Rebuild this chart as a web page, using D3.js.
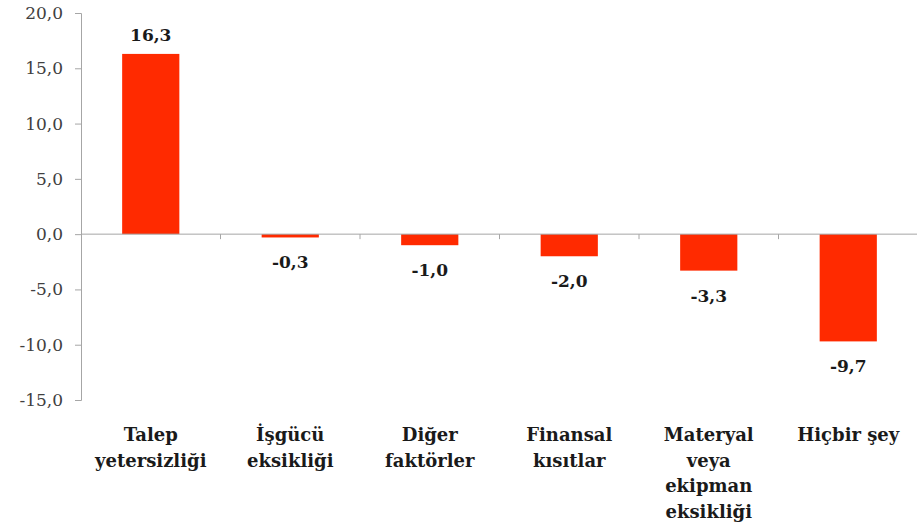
<!DOCTYPE html>
<html>
<head>
<meta charset="utf-8">
<script src="https://cdn.jsdelivr.net/npm/d3@7"></script>
<style>
  body { margin: 0; background: #fff; }
  svg { display: block; }
</style>
</head>
<body>
<div id="chart"></div>
<script>
// data
var categories = [
  ["Talep", "yetersizliği"],
  ["İşgücü", "eksikliği"],
  ["Diğer", "faktörler"],
  ["Finansal", "kısıtlar"],
  ["Materyal", "veya", "ekipman", "eksikliği"],
  ["Hiçbir şey"]
];
var values = [16.3, -0.3, -1.0, -2.0, -3.3, -9.7];
var yTicks = [20, 15, 10, 5, 0, -5, -10, -15];

var width = 917, height = 526;
var fontFam = "'DejaVu Serif', serif";

var svg = d3.select("#chart").append("svg")
  .attr("width", width)
  .attr("height", height);

var keys = categories.map(function (c) { return c.join(" "); });

var xScale = d3.scaleBand()
  .domain(keys)
  .range([81, 918])
  .paddingInner(0.59)
  .paddingOuter(0.295);

var yScale = d3.scaleLinear()
  .domain([-15, 20])
  .range([400, 13]);

// comma decimal, plain hyphen for minus
var fmt = function (v) { return d3.format(".1f")(v).replace(".", ",").replace("\u2212", "-"); };

// y axis
var yAxis = svg.append("g")
  .attr("transform", "translate(81,0)")
  .call(d3.axisLeft(yScale).tickValues(yTicks).tickSize(6).tickPadding(12).tickFormat(fmt));
yAxis.select(".domain").attr("stroke", "#a6a6a6");
yAxis.selectAll(".tick line").attr("stroke", "#a6a6a6");
yAxis.selectAll(".tick text")
  .attr("font-family", fontFam)
  .attr("font-size", "17px")
  .attr("fill", "#404040");

// bars
svg.selectAll(".bar")
  .data(values)
  .enter().append("rect")
  .attr("class", "bar")
  .attr("x", function (d, i) { return xScale(keys[i]); })
  .attr("width", xScale.bandwidth())
  .attr("y", function (d) { return yScale(Math.max(0, d)); })
  .attr("height", function (d) { return Math.abs(yScale(d) - yScale(0)); })
  .attr("fill", "#ff2a00");

// zero line + category boundary ticks
svg.append("line")
  .attr("x1", 81).attr("x2", 918)
  .attr("y1", yScale(0)).attr("y2", yScale(0))
  .attr("stroke", "#a6a6a6");

var step = xScale.step();
keys.forEach(function (k, i) {
  var bx = xScale(k) + xScale.bandwidth() + step * xScale.paddingInner() / 2;
  svg.append("line")
    .attr("x1", bx).attr("x2", bx)
    .attr("y1", yScale(0)).attr("y2", yScale(0) + 5)
    .attr("stroke", "#a6a6a6");
});

// value labels
svg.selectAll(".val")
  .data(values)
  .enter().append("text")
  .attr("class", "val")
  .attr("x", function (d, i) { return xScale(keys[i]) + xScale.bandwidth() / 2; })
  .attr("y", function (d) { return d >= 0 ? yScale(d) - 13 : yScale(d) + 31; })
  .attr("text-anchor", "middle")
  .attr("font-family", fontFam)
  .attr("font-weight", "bold")
  .attr("font-size", "17px")
  .attr("fill", "#1a1a1a")
  .text(fmt);

// category labels
var cat = svg.selectAll(".cat")
  .data(categories)
  .enter().append("text")
  .attr("class", "cat")
  .attr("text-anchor", "middle")
  .attr("font-family", fontFam)
  .attr("font-weight", "bold")
  .attr("font-size", "18px")
  .attr("fill", "#1a1a1a");

cat.selectAll("tspan")
  .data(function (d, i) { return d.map(function (line) { return { line: line, i: i }; }); })
  .enter().append("tspan")
  .attr("x", function (d) { return xScale(keys[d.i]) + xScale.bandwidth() / 2; })
  .attr("y", function (d, j) { return 441 + j * 25.5; })
  .text(function (d) { return d.line; });
</script>
</body>
</html>
